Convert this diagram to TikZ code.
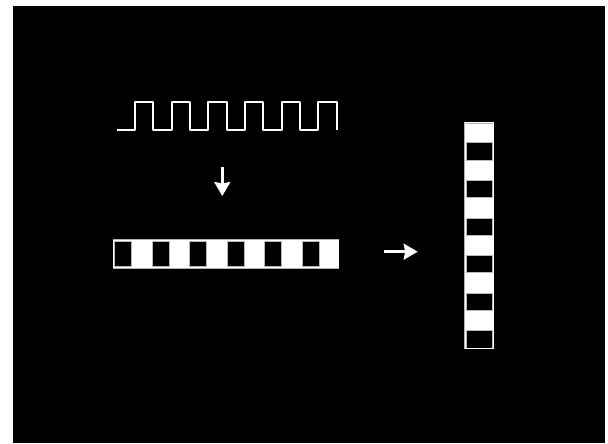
\documentclass[tikz,border=0pt]{standalone}
\usetikzlibrary{arrows.meta}
\begin{document}
\begin{tikzpicture}[x=1pt,y=-1pt,
  wave/.style={white, line width=2pt, line join=round},
  barframe/.style={draw=gray!60, line width=1.6pt, fill=white, inner sep=0pt, outer sep=0pt},
  blackcell/.style={draw=gray!55, line width=1pt, fill=black},
  arr/.style={white, line width=2.6pt, -{Stealth[length=14pt, width=16pt, inset=1.5pt]}}]
\useasboundingbox (0,0) rectangle (608,444);
\fill[white] (0,0) rectangle (608,444);
\fill[black] (13,6) rectangle (605,443);
% square wave
\draw[wave] (116.7,130) foreach \i in {0,...,5} { -- ++(18.33,0) -- ++(0,-28.5) -- ++(18.33,0) -- ++(0,28.5) };
\coordinate (wavebot) at (222.3,167.3);
% horizontal bar
\node[barframe, minimum width=225pt, minimum height=27.7pt, anchor=north west] (hbar) at (113.3,240) {};
\foreach \i in {0,2,...,10} {
  \draw[blackcell] (114.6+\i*18.75,241.3) rectangle ++(17.2,25.1);
}
\draw[draw=white, line width=1pt] (hbar.north west) rectangle (hbar.south east);
% vertical bar
\node[barframe, minimum width=28.3pt, minimum height=225.6pt, anchor=north west] (vbar) at (465,122.7) {};
\foreach \i in {1,3,...,11} {
  \draw[blackcell] (466.3,124+\i*18.8) rectangle ++(25.7,17.2);
}
\draw[draw=white, line width=1pt] (vbar.north west) rectangle (vbar.south east);
% arrows
\coordinate (downend) at (222.3,196);
\coordinate (rstart) at (384,251.7);
\coordinate (rend) at (417.7,251.7);
\draw[arr] (wavebot) -- (downend);
\draw[arr] (rstart) -- (rend);
\end{tikzpicture}
\end{document}
